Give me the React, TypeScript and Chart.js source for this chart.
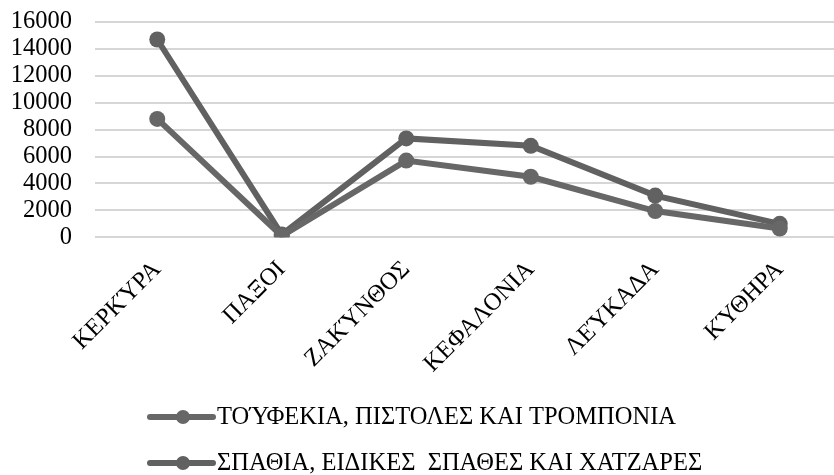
import React, { useEffect, useRef } from "react";
import { Chart, registerables } from "chart.js";

Chart.register(...registerables);

const categories = ["ΚΕΡΚΎΡΑ", "ΠΑΞΟΙ", "ΖΑΚΎΝΘΟΣ", "ΚΕΦΑΛΟΝΙΑ", "ΛΕΎΚΑΔΑ", "ΚΎΘΗΡΑ"];
const seriesNames = [
  "ΤΟΎΦΕΚΙΑ, ΠΙΣΤΟΛΕΣ ΚΑΙ ΤΡΟΜΠΟΝΙΑ",
  "ΣΠΑΘΙΑ, ΕΙΔΙΚΕΣ  ΣΠΑΘΕΣ ΚΑΙ ΧΑΤΖΑΡΕΣ",
];
const rifles = [8800, 100, 5700, 4500, 1950, 650];
const swords = [14700, 200, 7350, 6800, 3100, 1000];
const yMin = 0;
const yMax = 16000;
const yStep = 2000;
const colors = ["#676767", "#616161"];

const FONT = "'Liberation Serif'";

const legendPlugin = {
  id: "customLegend",
  afterDraw(chart: any) {
    const ctx = chart.ctx;
    const rows = [417, 463];
    ctx.save();
    chart.data.datasets.forEach((ds: any, i: number) => {
      const y = rows[i];
      ctx.strokeStyle = ds.borderColor;
      ctx.lineWidth = 6;
      ctx.lineCap = "round";
      ctx.beginPath();
      ctx.moveTo(150, y);
      ctx.lineTo(213, y);
      ctx.stroke();
      ctx.fillStyle = ds.borderColor;
      ctx.beginPath();
      ctx.arc(183, y, 7, 0, Math.PI * 2);
      ctx.fill();
      ctx.fillStyle = "#000";
      ctx.font = "24.5px " + FONT;
      ctx.textAlign = "left";
      ctx.textBaseline = "middle";
      ctx.fillText(ds.label, 217, y + 1);
    });
    ctx.restore();
  },
};

export default function App() {
  const ref = useRef<HTMLCanvasElement>(null);
  useEffect(() => {
    if (!ref.current) return;
    const mk = (label: string, data: number[], color: string) => ({
      label,
      data,
      borderColor: color,
      backgroundColor: color,
      borderWidth: 6,
      pointRadius: 8,
      pointHoverRadius: 8,
      pointBackgroundColor: color,
      pointBorderWidth: 0,
      tension: 0,
    });
    const chart = new Chart(ref.current, {
      type: "line",
      data: {
        labels: categories,
        datasets: [mk(seriesNames[0], rifles, colors[0]), mk(seriesNames[1], swords, colors[1])],
      },
      options: {
        responsive: false,
        animation: false,
        layout: { padding: { left: 0, right: 8, top: 22, bottom: 0 } },
        plugins: {
          legend: { display: false },
          tooltip: { enabled: false },
        },
        scales: {
          x: {
            offset: true,
            grid: { display: false, drawTicks: false },
            border: { display: false },
            ticks: {
              autoSkip: false,
              minRotation: 45,
              maxRotation: 45,
              padding: 18,
              color: "#000",
              font: { family: FONT, size: 24.5 },
            },
            afterFit(scale: any) {
              scale.height = 475 - 237.3;
              scale.paddingLeft = 0;
              scale.paddingRight = 0;
              scale.paddingTop = 0;
              scale.paddingBottom = 0;
            },
          },
          y: {
            min: yMin,
            max: yMax,
            grid: { color: "#d6d6d6", lineWidth: 2, drawTicks: false },
            border: { display: false },
            ticks: {
              stepSize: yStep,
              autoSkip: false,
              padding: 23,
              color: "#000",
              font: { family: FONT, size: 24.5 },
              callback: (v: any) => String(v),
            },
            afterFit(scale: any) {
              scale.width = 95;
              scale.paddingTop = 0;
              scale.paddingBottom = 0;
              scale.paddingLeft = 0;
              scale.paddingRight = 0;
            },
          },
        },
      },
      plugins: [legendPlugin],
    });
    return () => chart.destroy();
  }, []);
  return (
    <div style={{ position: "absolute", left: 0, top: 0, width: 834, height: 475, overflow: "hidden", background: "#fff" }}>
      <canvas ref={ref} width={850} height={475} style={{ display: "block" }} />
    </div>
  );
}
